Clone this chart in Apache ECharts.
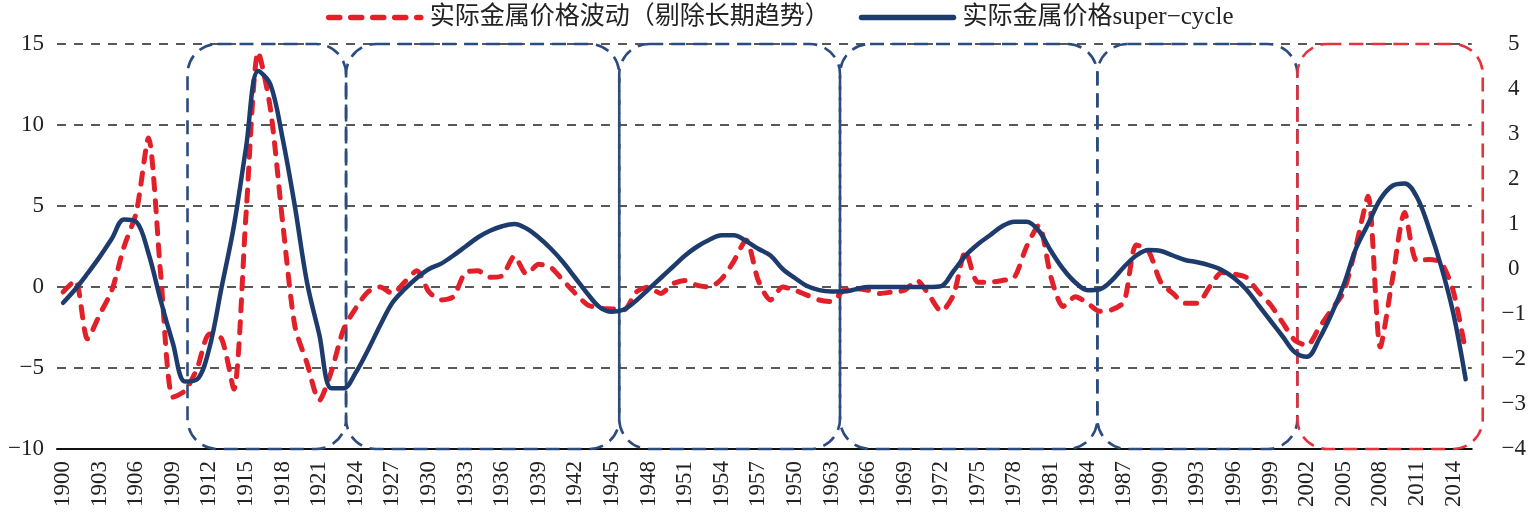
<!DOCTYPE html>
<html>
<head>
<meta charset="utf-8">
<script src="https://cdn.jsdelivr.net/npm/echarts@6/dist/echarts.min.js"></script>
<style>
html, body { margin: 0; padding: 0; background: #fff; }
#main { width: 1529px; height: 517px; }
</style>
</head>
<body>
<div id="main"></div>
<script>
// categories: one per year
var years = [];
for (var yr = 1900; yr <= 2015; yr++) years.push(String(yr));

// tick labels every 3 years (the source prints "1950" where 1960 should be)
var tickLabels = ['1900','1903','1906','1909','1912','1915','1918','1921','1924','1927',
	'1930','1933','1936','1939','1942','1945','1948','1951','1954','1957',
	'1950','1963','1966','1969','1972','1975','1978','1981','1984','1987',
	'1990','1993','1996','1999','2002','2005','2008','2011','2014'];

// 实际金属价格波动（剔除长期趋势） - left axis
var fluctuation = [
	-0.3, 0.4, -3.2, -1.7, -0.2, 2.5, 4.6, 9.2, 0.8, -6.8,
	-6.4, -5.0, -2.9, -3.2, -6.3, 4.5, 14.5, 11.0, 4.0, -2.4,
	-4.7, -7.0, -5.2, -2.6, -1.3, -0.3, 0.0, -0.4, 0.3, 1.0,
	-0.3, -0.8, -0.6, 0.9, 1.0, 0.6, 0.7, 1.9, 0.8, 1.4,
	1.2, 0.4, -0.4, -1.1, -1.3, -1.35, -1.4, -0.3, 0.0, -0.4,
	0.2, 0.4, 0.1, 0.0, 0.5, 1.6, 2.9, 0.4, -0.8, 0.0,
	-0.2, -0.5, -0.8, -0.9, -0.2, -0.1, -0.2, -0.4, -0.3, -0.2,
	0.4, -0.5, -1.5, -0.5, 2.2, 0.3, 0.3, 0.4, 0.6, 2.5,
	3.8, 0.6, -1.2, -0.6, -1.0, -1.5, -1.4, -0.9, 2.6, 2.2,
	0.3, -0.4, -1.0, -1.0, 0.0, 0.9, 0.8, 0.6, -0.3, -1.1,
	-2.2, -3.3, -3.6, -2.5, -1.4, -0.3, 2.5, 5.6, -3.7, 0.5,
	4.6, 1.6, 1.7, 1.5, -0.3, -4.0
];

// 实际金属价格super-cycle - right axis
var superCycle = [
	-0.75, -0.45, -0.1, 0.27, 0.68, 1.1, 1.05, 0.35, -0.7, -1.65,
	-2.5, -2.45, -1.75, -0.4, 0.95, 2.7, 4.4, 4.1, 2.9, 1.4,
	-0.3, -1.45, -2.65, -2.65, -2.3, -1.8, -1.25, -0.75, -0.45, -0.2,
	0.0, 0.12, 0.3, 0.5, 0.7, 0.85, 0.95, 1.0, 0.9, 0.7,
	0.45, 0.15, -0.2, -0.55, -0.85, -0.95, -0.9, -0.7, -0.45, -0.2,
	0.05, 0.3, 0.5, 0.65, 0.75, 0.75, 0.62, 0.45, 0.3, 0.0,
	-0.2, -0.38, -0.47, -0.5, -0.5, -0.45, -0.4, -0.4, -0.4, -0.4,
	-0.4, -0.4, -0.38, -0.05, 0.3, 0.55, 0.75, 0.95, 1.05, 1.05,
	0.85, 0.4, 0.0, -0.3, -0.47, -0.45, -0.25, 0.05, 0.3, 0.42,
	0.4, 0.3, 0.2, 0.15, 0.08, -0.02, -0.2, -0.45, -0.8, -1.15,
	-1.5, -1.85, -1.95, -1.55, -1.0, -0.35, 0.45, 1.0, 1.55, 1.85,
	1.9, 1.6, 0.9, 0.05, -1.0, -2.45
];

// cycle boundaries (in years) for the dashed rounded boxes; last box is red
var cycleBounds = [1910.2, 1923.2, 1945.6, 1963.7, 1984.8, 2001.2, 2016.4];

var RED = '#e1202a';
var NAVY = '#1e3b6e';
var FONT = "'Liberation Serif', 'Noto Sans CJK SC', serif";

function minus(v) {
	return v < 0 ? '\u2212' + (-v) : String(v);
}

var chart = echarts.init(document.getElementById('main'));
var option = {
	animation: false,
	textStyle: { fontFamily: FONT },
	legend: {
		left: 321,
		top: 0,
		itemWidth: 92,
		itemHeight: 14,
		itemGap: 29,
		itemStyle: { opacity: 0, borderWidth: 0 },
		lineStyle: { width: 5.5 },
		textStyle: { fontSize: 25, color: '#222', fontFamily: FONT, padding: [0, 0, 0, 4] },
		data: ['实际金属价格波动（剔除长期趋势）', '实际金属价格super\u2212cycle']
	},
	grid: { left: 57, right: 54, top: 44, bottom: 68, containLabel: false },
	xAxis: {
		type: 'category',
		data: years,
		boundaryGap: true,
		axisLine: { onZero: false, lineStyle: { color: '#111', width: 2 } },
		axisTick: { show: false },
		axisLabel: {
			interval: 2,
			rotate: 90,
			margin: 12,
			fontSize: 23,
			color: '#222',
			fontFamily: FONT,
			formatter: function(v, i) { return tickLabels[i / 3]; }
		}
	},
	yAxis: [
		{
			type: 'value',
			min: -10, max: 15, interval: 5,
			axisLine: { show: false },
			axisTick: { show: false },
			axisLabel: { fontSize: 23, color: '#222', margin: 13, fontFamily: FONT, formatter: minus },
			splitLine: { lineStyle: { color: '#222', width: 1.6, type: [9, 8] } }
		},
		{
			type: 'value',
			min: -4, max: 5, interval: 1,
			axisLine: { show: false },
			axisTick: { show: false },
			splitLine: { show: false },
			axisLabel: { fontSize: 23, color: '#222', margin: 42, align: 'center', fontFamily: FONT, formatter: minus }
		}
	],
	series: [
		{
			name: '实际金属价格波动（剔除长期趋势）',
			type: 'line',
			yAxisIndex: 0,
			data: fluctuation,
			symbol: 'none',
			smooth: 0.25,
			z: 3,
			lineStyle: { color: RED, width: 5, type: [11, 11], cap: 'round' },
			itemStyle: { color: RED }
		},
		{
			name: '实际金属价格super\u2212cycle',
			type: 'line',
			yAxisIndex: 1,
			data: superCycle,
			symbol: 'none',
			smooth: 0.35,
			z: 4,
			lineStyle: { color: NAVY, width: 4.5, cap: 'round' },
			itemStyle: { color: NAVY }
		}
	]
};
chart.setOption(option);

// rounded dashed boxes around each cycle, placed through the axes
var p0 = chart.convertToPixel({ xAxisIndex: 0 }, years[0]);
var p1 = chart.convertToPixel({ xAxisIndex: 0 }, years[1]);
var band = p1 - p0;
var yTop = chart.convertToPixel({ yAxisIndex: 0 }, 15);
var yBot = chart.convertToPixel({ yAxisIndex: 0 }, -10);
var boxes = [];
for (var i = 0; i < cycleBounds.length - 1; i++) {
	var xa = p0 + (cycleBounds[i] - 1900) * band;
	var xb = p0 + (cycleBounds[i + 1] - 1900) * band;
	var last = i === cycleBounds.length - 2;
	boxes.push({
		type: 'rect',
		z: last ? 2 : 1,
		shape: { x: xa, y: yTop, width: xb - xa, height: yBot - yTop, r: 30 },
		style: { fill: 'none', stroke: last ? '#e6323c' : '#2d4c7e', lineWidth: 2.6, lineDash: [14, 8] },
		silent: true
	});
}
chart.setOption({ graphic: boxes });
</script>
</body>
</html>
